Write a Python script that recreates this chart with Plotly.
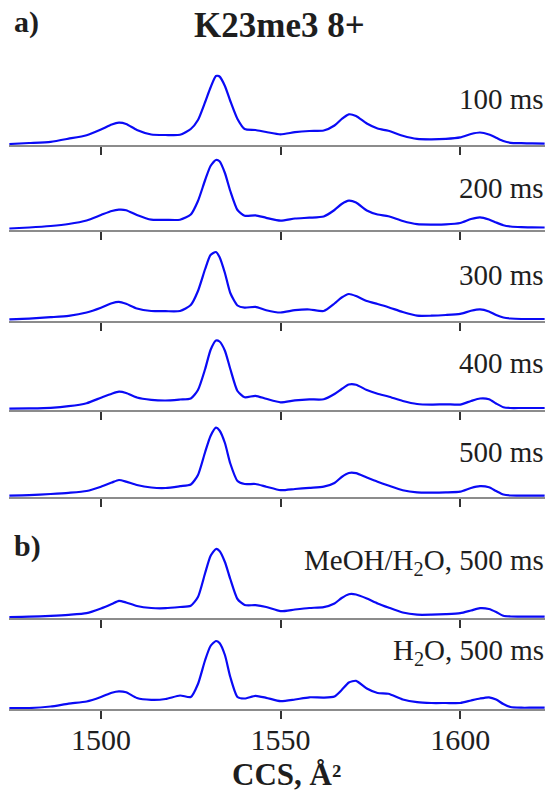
import plotly.graph_objects as go

# Collision cross section grid (Å²) shared by all arrival-time traces
ccs = [1474.5, 1480, 1486, 1491, 1496, 1500, 1503, 1505, 1507, 1510,
       1514, 1518, 1522, 1525, 1527, 1529, 1530.5, 1532, 1533, 1534.5,
       1536, 1538, 1540, 1543, 1546, 1550, 1554, 1558, 1562, 1565,
       1567, 1569, 1571, 1574, 1577, 1580, 1584, 1588, 1592, 1596,
       1600, 1603, 1605.5, 1608, 1610, 1612, 1614, 1617, 1620, 1623.5]

# Relative intensities (a.u.)
i_100ms = [0, 1, 2.2, 5.3, 8.8, 14.5, 19.5, 21.3, 20, 14,
           9.5, 9, 9.2, 15, 24, 42, 56.5, 68, 67.5, 58,
           43, 25, 15, 14, 12, 9.7, 11.8, 13, 13.5, 18.5,
           25, 29.7, 28, 20.5, 15.5, 13.2, 8.3, 5.1, 4.7, 5.2,
           6.7, 10, 11.5, 9.5, 6.3, 3, 1.2, 0.8, 0.6, 0.3]
i_200ms = [0.5, 1.5, 3, 5, 8.5, 14, 18, 19.3, 18.8, 14,
           9.3, 9.2, 9.3, 14.5, 28, 49, 63, 69, 67.7, 56,
           38, 19, 13.2, 13.7, 11.2, 8.4, 10.5, 11.3, 12.5, 19,
           25, 28.3, 26.5, 18.5, 14.5, 12.8, 8, 4.8, 4.4, 4.6,
           6, 10, 11.7, 9.5, 6.5, 3.8, 2.5, 1.8, 1.6, 1.5]
i_300ms = [0.7, 1.4, 2.8, 4.2, 7.5, 12.3, 16.8, 18.2, 16.2, 11.5,
           9, 8.8, 9, 15, 29, 51, 65, 68, 63, 47,
           27, 14.5, 12.3, 13.2, 9.8, 7.5, 9.8, 10.5, 9, 16.5,
           22.5, 26, 24, 19, 16, 12.8, 8, 4.3, 4.3, 5,
           6.2, 9.2, 10.6, 8.5, 5, 2.5, 1.5, 1, 1, 1]
i_400ms = [0.3, 0.6, 1.2, 2.8, 5.8, 11.3, 15.3, 17.3, 16, 11.5,
           9.2, 8.5, 9.5, 10.5, 19, 40, 59, 68.5, 67.5, 58.3,
           40, 18, 11.7, 13.2, 10.2, 6.7, 8.6, 9.6, 9.7, 15,
           20, 24.5, 24.3, 19, 15.3, 12.5, 8, 5, 4.4, 4.7,
           4.4, 8, 10.5, 9.8, 5.5, 1.8, 1, 1, 1, 1]
i_500ms = [0.3, 0.8, 2, 3.2, 5, 9.3, 13.5, 16, 14.4, 11,
           8.5, 8, 9.8, 11.5, 21, 44, 60, 68.3, 65.5, 53,
           32.5, 15, 12, 12, 9.3, 5.8, 7, 8.2, 9.3, 13,
           19, 23, 22.8, 18.5, 14.3, 10.5, 5.8, 3.6, 3.4, 3.6,
           4.3, 8, 9.8, 8.7, 5, 1.5, 0.5, 0.3, 0.3, 0.3]
i_meoh = [0, 0.3, 1.2, 2.2, 3.8, 8.5, 13, 16.2, 14.5, 11,
          9, 8.8, 10, 11.2, 20, 44, 61, 68, 66, 55,
          38, 18, 12, 11.8, 10, 5.8, 7.5, 9, 9.9, 13.5,
          19, 22.8, 22.5, 18.5, 13.6, 9.5, 4.5, 2.3, 2.3, 2.8,
          3.8, 6.5, 8.8, 8, 5, 1.2, 0.5, 0.3, 0.3, 0.3]
i_water = [0, 0, 1.5, 4.4, 6.5, 11, 15.3, 16.7, 15.7, 10,
           8.2, 9, 12.5, 11, 24, 48, 62, 67, 65, 53,
           31, 11, 9.5, 12.2, 10.2, 6.8, 8.5, 10.7, 10.4, 11.5,
           18, 25.5, 27.2, 19.5, 15, 14.2, 8.5, 5.8, 5, 5,
           5, 7.5, 9.5, 10.7, 8.5, 4, 1, 0.3, 0.3, 0.3]

labels = ["100 ms", "200 ms", "300 ms", "400 ms", "500 ms",
          "MeOH/H<sub>2</sub>O, 500 ms", "H<sub>2</sub>O, 500 ms"]
series = [i_100ms, i_200ms, i_300ms, i_400ms, i_500ms, i_meoh, i_water]
tick_vals = [1500, 1550, 1600]

W, H = 550, 793
SERIF = "Liberation Serif, Times New Roman, serif"
TEXT = "#1e1e1e"

# Panel layout in pixels: baseline position and label centre of each stack
baselines = [145, 230, 321, 410, 497, 618, 709]
label_y = [99, 188, 275, 363, 452, 562, 652]
panel_h = 78

fig = go.Figure()
layout = {}
for k, (vals, lab) in enumerate(zip(series, labels)):
    n = k + 1
    sfx = "" if n == 1 else str(n)
    fig.add_trace(go.Scatter(
        x=ccs, y=vals, xaxis="x" + sfx, yaxis="y" + sfx, mode="lines",
        line=dict(color="#0a0af5", width=2.2, shape="spline", smoothing=0.6),
        showlegend=False, hoverinfo="skip"))
    b = baselines[k]
    layout["xaxis" + sfx] = dict(
        domain=[9 / W, 545 / W], range=[1474.4, 1623.6], anchor="y" + sfx,
        showline=True, linecolor="#8c8c8c", linewidth=2, layer="below traces",
        ticks="outside", ticklen=8, tickwidth=1.6, tickcolor="#333333",
        tickvals=tick_vals, showticklabels=(n == len(series)),
        ticklabelstandoff=-5,
        tickfont=dict(family=SERIF, size=30, color=TEXT),
        showgrid=False, zeroline=False, fixedrange=True)
    layout["yaxis" + sfx] = dict(
        domain=[(H - b) / H, (H - b + panel_h) / H], range=[-1, panel_h - 1],
        visible=False, fixedrange=True)
    fig.add_annotation(text=lab, xref="paper", yref="paper",
                       x=546 / W, y=(H - label_y[k]) / H,
                       xanchor="right", yanchor="middle", showarrow=False,
                       font=dict(family=SERIF, size=29, color=TEXT))

fig.add_annotation(text="<b>K23me3 8+</b>", xref="paper", yref="paper",
                   x=280 / W, y=(H - 25) / H, xanchor="center", yanchor="middle",
                   showarrow=False, font=dict(family=SERIF, size=35, color=TEXT))
fig.add_annotation(text="<b>a)</b>", xref="paper", yref="paper",
                   x=12 / W, y=(H - 22) / H, xanchor="left", yanchor="middle",
                   showarrow=False, font=dict(family=SERIF, size=30, color=TEXT))
fig.add_annotation(text="<b>b)</b>", xref="paper", yref="paper",
                   x=12 / W, y=(H - 546) / H, xanchor="left", yanchor="middle",
                   showarrow=False, font=dict(family=SERIF, size=30, color=TEXT))
fig.add_annotation(text="<b>CCS, Å²</b>", xref="paper", yref="paper",
                   x=286 / W, y=0, xanchor="center", yanchor="bottom",
                   borderpad=0, showarrow=False,
                   font=dict(family=SERIF, size=31, color=TEXT))

fig.update_layout(**layout)
fig.update_layout(width=W, height=H, margin=dict(l=0, r=0, t=0, b=0),
                  paper_bgcolor="white", plot_bgcolor="white")
fig.write_html("out.html")
